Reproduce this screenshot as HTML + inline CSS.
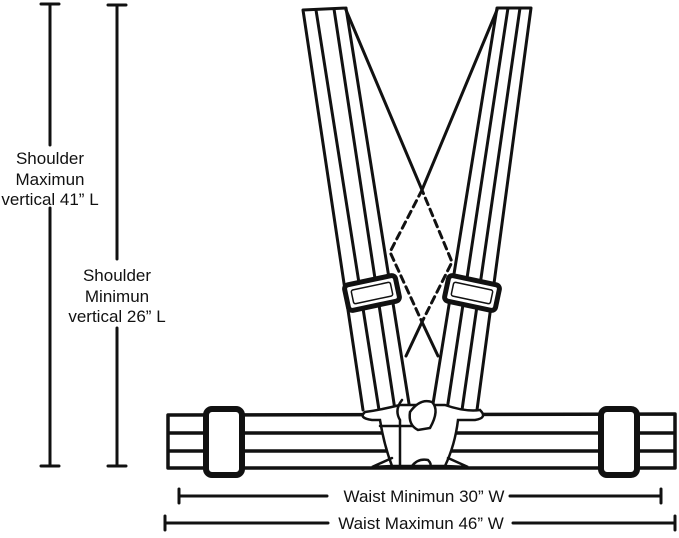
<!DOCTYPE html>
<html><head><style>
body{margin:0;background:#fff;width:679px;height:538px;overflow:hidden}
svg{display:block}
text{font-family:"Liberation Sans",Arial,sans-serif;font-size:17px;fill:#111}
</style></head><body>
<svg width="679" height="538" viewBox="0 0 679 538" stroke="#111" fill="none" stroke-linecap="round">
<!-- vertical dims -->
<g stroke-width="3">
<line x1="50" y1="4" x2="50" y2="145"/><line x1="50" y1="208" x2="50" y2="466"/>
<line x1="41" y1="4" x2="59" y2="4"/><line x1="41" y1="466" x2="59" y2="466"/>
<line x1="117" y1="5" x2="117" y2="259"/><line x1="117" y1="328" x2="117" y2="466"/>
<line x1="108" y1="5" x2="126" y2="5"/><line x1="108" y1="466" x2="126" y2="466"/>
<!-- horizontal dims -->
<line x1="179" y1="496" x2="327" y2="496"/><line x1="510" y1="496" x2="661" y2="496"/>
<line x1="179" y1="489" x2="179" y2="503"/><line x1="661" y1="489" x2="661" y2="503"/>
<line x1="165" y1="523" x2="328" y2="523"/><line x1="513" y1="523" x2="675" y2="523"/>
<line x1="165" y1="516" x2="165" y2="530"/><line x1="675" y1="516" x2="675" y2="530"/>
</g>
<g stroke="none" text-anchor="middle">
<text x="50" y="164">Shoulder</text><text x="50" y="185">Maximun</text><text x="50" y="205">vertical 41” L</text>
<text x="117" y="281">Shoulder</text><text x="117" y="302">Minimun</text><text x="117" y="322">vertical 26” L</text>
<text x="424" y="502">Waist Minimun  30” W</text>
<text x="421" y="529">Waist Maximun 46” W</text>
</g>
<!-- straps -->
<g stroke-width="3">
<path d="M303,10 L346,8 M303,10 L363,410 M316,10 L379,410 M334,9 L395,410 M346,8 L410,410"/>
<path d="M497,8 L531,8 M531,8 L477,410 M520,8 L462,410 M508,8 L447,410 M497,8 L432,410"/>
<path d="M346,10 L422,190 L497,10"/>
<path d="M422,190 L390,252 L422,322 L452,262 Z" stroke-dasharray="7,5"/>
<path d="M422,322 L406,356 M422,322 L438,356"/>
</g>
<!-- shoulder buckles -->
<g transform="rotate(-12 372 293)"><rect x="346" y="280" width="52" height="26" rx="4" stroke-width="5" fill="#fff"/><rect x="352" y="286" width="40" height="14" rx="2" stroke-width="1.5"/></g>
<g transform="rotate(12 472 293)"><rect x="446" y="280" width="52" height="26" rx="4" stroke-width="5" fill="#fff"/><rect x="452" y="286" width="40" height="14" rx="2" stroke-width="1.5"/></g>
<!-- belt -->
<g stroke-width="3.5">
<path d="M168,415 L675,414 M168,433 L675,433 M168,451 L675,451 M168,468 L675,468 M168,415 L168,468 M675,414 L675,468"/>
</g>
<rect x="206" y="409" width="36" height="66" rx="6" stroke-width="6" fill="#fff"/>
<rect x="601" y="409" width="36" height="66" rx="6" stroke-width="6" fill="#fff"/>
<!-- center buckle -->
<g stroke-width="2.5" fill="#fff">
<path d="M365,412 Q358,418 372,420 L380,420 Q384,445 392,466 L445,466 Q455,445 458,420 L475,420 Q488,418 480,410 Q465,412 445,405 L400,405 Q380,410 365,412 Z"/>
<path d="M392,466 L372,467 L392,458 M445,466 L468,467 L448,458" fill="none"/>
<path d="M402,400 Q394,410 400,420 L400,466 M380,426 L425,426" fill="none"/>
<path d="M410,412 Q420,398 432,402 Q440,410 430,428 L418,430 Q408,425 410,412 Z"/>
<path d="M412,466 Q418,458 428,460 Q432,464 430,467" fill="none"/>
</g>
</svg>
</body></html>
